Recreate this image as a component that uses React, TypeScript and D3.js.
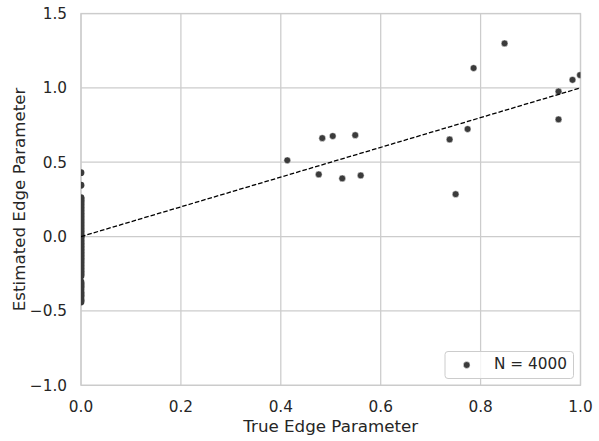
import React from "react";
import * as d3 from "d3";

// Edges whose true parameter is non-zero: [true, estimated]
const trueNonZero = [0.413, 0.476, 0.483, 0.504, 0.523, 0.549, 0.56, 0.738, 0.75, 0.774, 0.786, 0.848, 0.956, 0.956, 0.984, 0.999];
const estNonZero = [0.513, 0.418, 0.662, 0.676, 0.391, 0.682, 0.411, 0.653, 0.285, 0.723, 1.133, 1.299, 0.976, 0.788, 1.054, 1.086];

// Estimates for edges whose true parameter is zero
const estZero = [
  0.43, 0.345, 0.262, 0.255, 0.245, 0.235, 0.225, 0.215, 0.205, 0.195, 0.185, 0.175, 0.165,
  0.155, 0.145, 0.135, 0.125, 0.115, 0.105, 0.095, 0.085, 0.075, 0.065, 0.055, 0.045, 0.035,
  0.025, 0.015, 0.005, 0.0, -0.005, -0.015, -0.025, -0.035, -0.045, -0.055, -0.065, -0.075,
  -0.085, -0.095, -0.105, -0.115, -0.125, -0.135, -0.145, -0.155, -0.165, -0.175, -0.185,
  -0.195, -0.205, -0.215, -0.225, -0.235, -0.245, -0.255, -0.265,
  -0.305, -0.315, -0.325, -0.335, -0.345, -0.36, -0.375, -0.385, -0.395, -0.405, -0.42, -0.43, -0.44,
];

const xTicks = [0, 0.2, 0.4, 0.6, 0.8, 1.0];
const yTicks = [-1, -0.5, 0, 0.5, 1, 1.5];
const legendLabel = "N = 4000";

const W = 599;
const H = 441;
const M = { left: 81, right: 580.5, top: 13.5, bottom: 385.3 };

const FONT = "'DejaVu Sans', sans-serif";
const GRID = "#cccccc";
const TEXT = "#262626";
const DOT = "#3b3b3b";

const fmt = (v: number) => {
  const s = v.toFixed(1);
  return v < 0 ? "\u2212" + s.slice(1) : s;
};

export default function App() {
  const x = d3.scaleLinear().domain([0, 1]).range([M.left, M.right]);
  const y = d3.scaleLinear().domain([-1, 1.5]).range([M.bottom, M.top]);

  const points: [number, number][] = [
    ...estZero.map((e) => [0, e] as [number, number]),
    ...trueNonZero.map((t, i) => [t, estNonZero[i]] as [number, number]),
  ];

  const diag = d3.line<[number, number]>().x((d) => x(d[0])).y((d) => y(d[1]))([
    [0, 0],
    [1, 1],
  ]);

  return (
    <svg
      width={W}
      height={H}
      style={{ position: "absolute", left: 0, top: 0, background: "#fff" }}
      fontFamily={FONT}
    >
      <defs>
        <clipPath id="plot-area">
          <rect x={M.left} y={M.top} width={M.right - M.left} height={M.bottom - M.top} />
        </clipPath>
      </defs>

      {/* grid */}
      {xTicks.map((t) => (
        <line key={"gx" + t} x1={x(t)} x2={x(t)} y1={M.top} y2={M.bottom} stroke={GRID} strokeWidth={1.25} />
      ))}
      {yTicks.map((t) => (
        <line key={"gy" + t} x1={M.left} x2={M.right} y1={y(t)} y2={y(t)} stroke={GRID} strokeWidth={1.25} />
      ))}

      {/* spines */}
      <rect
        x={M.left}
        y={M.top}
        width={M.right - M.left}
        height={M.bottom - M.top}
        fill="none"
        stroke={GRID}
        strokeWidth={1.25}
      />

      {/* scatter */}
      <g clipPath="url(#plot-area)">
        {points.map((p, i) => (
          <circle
            key={i}
            cx={x(p[0])}
            cy={y(p[1])}
            r={3.4}
            fill={DOT}
            stroke="#fff"
            strokeWidth={p[0] === 0 ? 0 : 0.5}
          />
        ))}
        <path d={diag ?? ""} fill="none" stroke="#000" strokeWidth={1.3} strokeDasharray="4.6,2" />
      </g>

      {/* tick labels */}
      {xTicks.map((t) => (
        <text key={"tx" + t} x={x(t)} y={411.5} textAnchor="middle" fontSize={15.3} fill={TEXT}>
          {fmt(t)}
        </text>
      ))}
      {yTicks.map((t) => (
        <text key={"ty" + t} x={67} y={y(t)} dy="0.36em" textAnchor="end" fontSize={15.3} fill={TEXT}>
          {fmt(t)}
        </text>
      ))}

      {/* axis labels */}
      <text x={(M.left + M.right) / 2} y={431.5} textAnchor="middle" fontSize={16.7} fill={TEXT}>
        True Edge Parameter
      </text>
      <text
        transform={`translate(25, ${(M.top + M.bottom) / 2}) rotate(-90)`}
        textAnchor="middle"
        fontSize={16.7}
        fill={TEXT}
      >
        Estimated Edge Parameter
      </text>

      {/* legend */}
      <g>
        <rect x={445} y={351.5} width={128.5} height={27} rx={3} fill="#fff" fillOpacity={0.8} stroke={GRID} strokeWidth={1} />
        <circle cx={466.7} cy={365} r={3.4} fill={DOT} stroke="#fff" strokeWidth={0.5} />
        <text x={494} y={368.5} fontSize={15.3} fill={TEXT}>
          {legendLabel}
        </text>
      </g>
    </svg>
  );
}
